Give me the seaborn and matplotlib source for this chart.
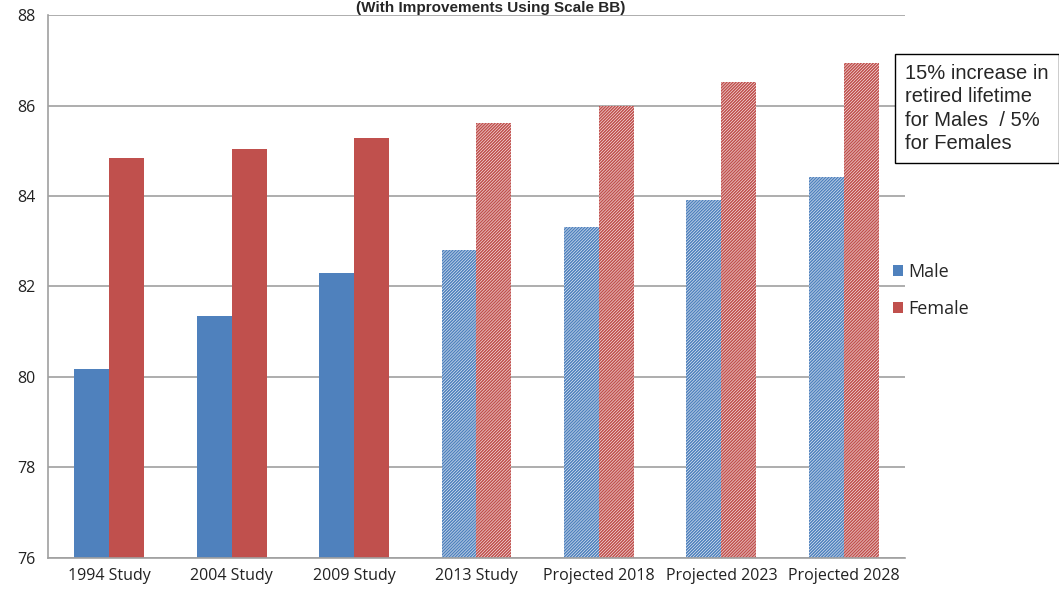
import matplotlib
matplotlib.use("Agg")
import matplotlib.pyplot as plt
import seaborn as sns
import pandas as pd
from matplotlib.patches import Patch

categories = ["1994 Study", "2004 Study", "2009 Study", "2013 Study",
              "Projected 2018", "Projected 2023", "Projected 2028"]
male = [80.17, 81.35, 82.30, 82.80, 83.31, 83.92, 84.41]
female = [84.83, 85.03, 85.28, 85.62, 86.00, 86.51, 86.93]
series = ["Male", "Female"]
colors = {"Male": "#4F81BD", "Female": "#C0504D"}
hatch_from = 3  # first hatched (projected) category index
yticks = [76, 78, 80, 82, 84, 86, 88]
title = "(With Improvements Using Scale BB)"
note = "15% increase in\nretired lifetime\nfor Males  / 5%\nfor Females"

df = pd.DataFrame({
    "Category": categories * 2,
    "Series": ["Male"] * len(categories) + ["Female"] * len(categories),
    "Value": male + female,
})

sns.set_theme(style="white")
plt.rcParams["font.family"] = ["Open Sans", "DejaVu Sans"]
plt.rcParams["hatch.linewidth"] = 1.15

fig = plt.figure(figsize=(10.59, 5.96), dpi=100)
ax = fig.add_axes([0.0453, 0.0638, 0.8093, 0.911])

sns.barplot(data=df, x="Category", y="Value", hue="Series", order=categories,
            hue_order=series, palette=colors, width=0.57, saturation=1,
            ax=ax, legend=False)

for name, cont in zip(series, ax.containers):
    for i, bar in enumerate(cont):
        bar.set_linewidth(0)
        if i >= hatch_from:
            bar.set_facecolor("white")
            bar.set_edgecolor(colors[name])
            bar.set_hatch("///////////")

ax.set_ylim(76, 88)
ax.set_yticks(yticks)
ax.set_xlim(-0.5, len(categories) - 0.5)
ax.set_xlabel("")
ax.set_ylabel("")
ax.yaxis.grid(True, color="#A0A0A0", linewidth=1.2)
ax.set_axisbelow(True)
for s in ["top", "right"]:
    ax.spines[s].set_visible(False)
for s in ["left", "bottom"]:
    ax.spines[s].set_color("#A0A0A0")
    ax.spines[s].set_linewidth(1.2)
ax.tick_params(axis="both", length=0, labelsize=11.5, colors="#222222", pad=7)
ax.tick_params(axis="y", pad=9)

handles = [Patch(facecolor=colors[s], edgecolor="none", label=s) for s in series]
ax.legend(handles=handles, loc="center left", bbox_to_anchor=(0.843, 0.513),
          bbox_transform=fig.transFigure, frameon=False, fontsize=13,
          handlelength=0.55, handleheight=0.55, handletextpad=0.3,
          labelspacing=1.05, borderaxespad=0, borderpad=0)

fig.text(0.463, 0.998, title, ha="center", va="top", fontsize=11,
         fontweight="bold", family=["Liberation Sans", "DejaVu Sans"])

fig.text(0.855, 0.893, note, ha="left", va="top", fontsize=14.5,
         family=["Liberation Sans", "DejaVu Sans"], linespacing=1.3,
         bbox=dict(boxstyle="square,pad=0.5", facecolor="white",
                   edgecolor="black", linewidth=1))

fig.savefig("out.png", dpi=100)
